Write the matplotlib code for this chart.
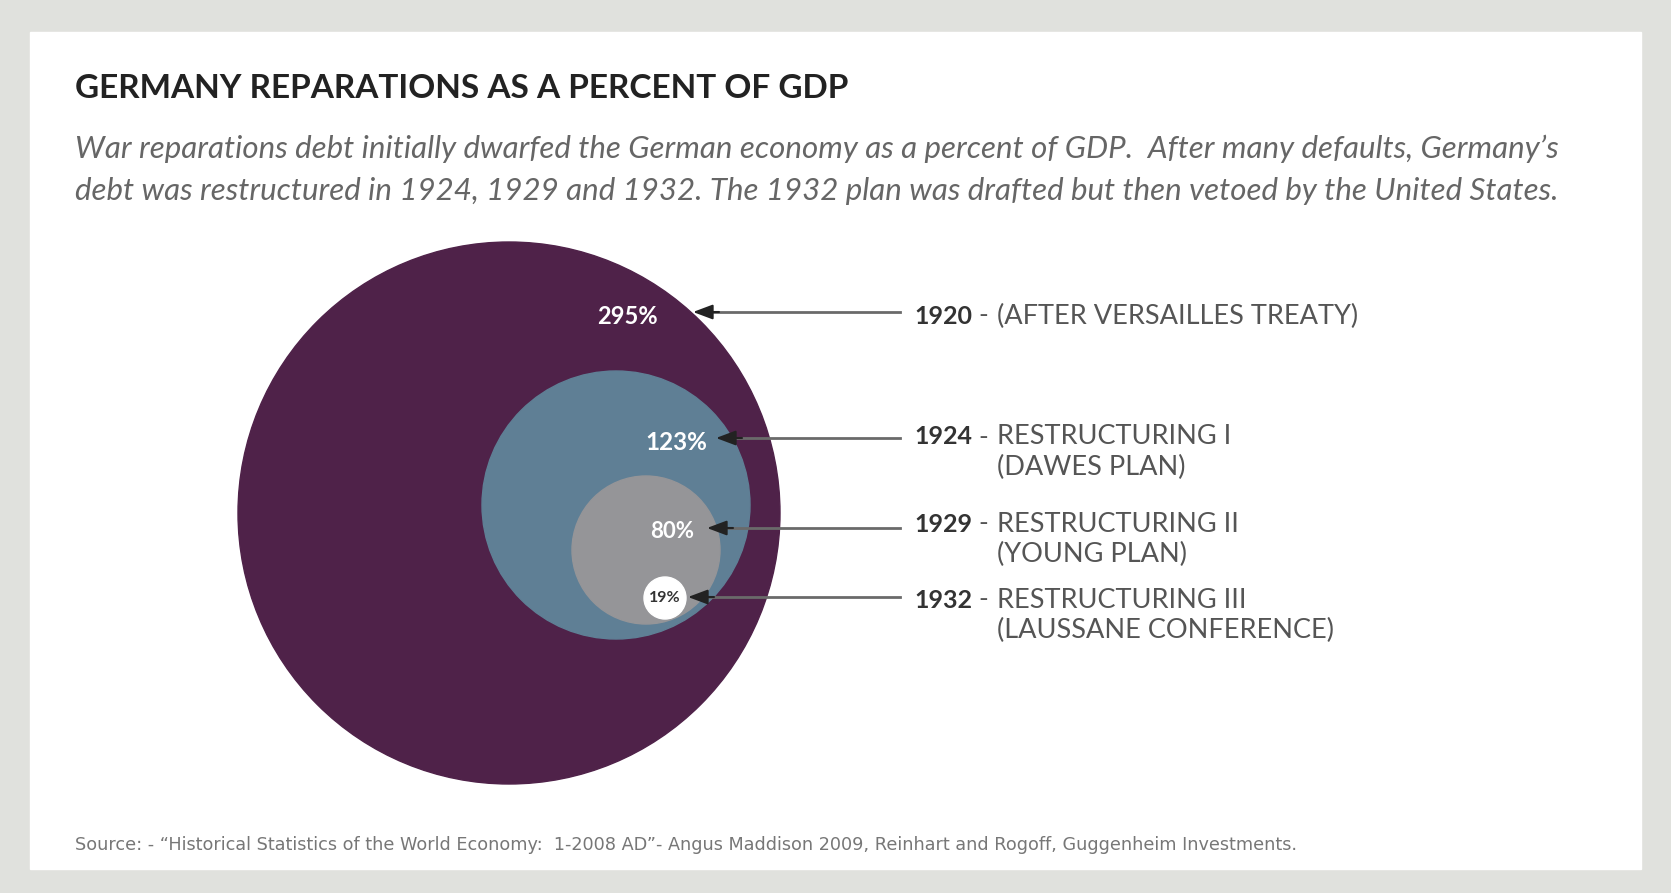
import matplotlib.pyplot as plt
from matplotlib.patches import Circle, Rectangle

# data
years = ['1920', '1924', '1929', '1932']
pct = [295, 123, 80, 19]
pct_labels = ['295%', '123%', '80%', '19%']
desc_line1 = ['(AFTER VERSAILLES TREATY)', 'RESTRUCTURING I', 'RESTRUCTURING II', 'RESTRUCTURING III']
desc_line2 = ['', '(DAWES PLAN)', '(YOUNG PLAN)', '(LAUSSANE CONFERENCE)']

title = 'GERMANY REPARATIONS AS A PERCENT OF GDP'
subtitle = ('War reparations debt initially dwarfed the German economy as a percent of GDP.  After many defaults, Germany\u2019s\n'
            'debt was restructured in 1924, 1929 and 1932. The 1932 plan was drafted but then vetoed by the United States.')
source = ('Source: - \u201cHistorical Statistics of the World Economy:  1-2008 AD\u201d- Angus Maddison 2009, '
          'Reinhart and Rogoff, Guggenheim Investments.')

# layout (pixel units of the 1671x893 canvas)
circle_xy = [(509, 513), (616, 505), (646, 550), (665, 598)]
circle_r = [271, 134, 74, 21]
colors = ['#4f2249', '#5f7f95', '#959598', '#ffffff']
label_xy = [(627, 317), (676, 442), (672, 531), (665, 598)]
label_col = ['white', 'white', 'white', '#333333']
label_size = [17, 17.5, 16, 11.5]
arrow_y = [312, 438, 528, 597]
arrow_tip = [693, 716, 707, 688]
text_y = [316, 437, 524, 600]

W, H = 1671, 893
fig = plt.figure(figsize=(W / 100, H / 100), dpi=100)
ax = fig.add_axes([0, 0, 1, 1])
ax.set_xlim(0, W)
ax.set_ylim(H, 0)
ax.axis('off')

# frame
ax.add_patch(Rectangle((0, 0), W, H, color='#e0e1dd', zorder=0))
ax.add_patch(Rectangle((30, 32), 1611, 837, color='white', zorder=1))

ax.text(75, 89, title, fontsize=24, fontweight='bold', family='Lato', color='#222222',
        va='center', ha='left', zorder=5)
ax.text(75, 170, subtitle, fontsize=22.5, style='italic', family='Lato', color='#666666',
        va='center', ha='left', linespacing=1.6, zorder=5)

# nested circles
for (cx, cy), r, c in zip(circle_xy, circle_r, colors):
    ax.add_patch(Circle((cx, cy), r, color=c, zorder=2))

for (lx, ly), s, c, fs in zip(label_xy, pct_labels, label_col, label_size):
    ax.text(lx, ly, s, fontsize=fs, fontweight='bold', family='Lato', color=c,
            ha='center', va='center', zorder=4)

# arrows and labels
for i in range(len(years)):
    ax.plot([arrow_tip[i] + 15, 900], [arrow_y[i], arrow_y[i]], color='#6a6a6a', lw=2, zorder=3)
    ax.annotate('', xy=(arrow_tip[i], arrow_y[i]), xytext=(arrow_tip[i] + 26, arrow_y[i]),
                arrowprops=dict(arrowstyle='-|>,head_length=1.2,head_width=0.45',
                                color='#222222', lw=1.5, shrinkA=0, shrinkB=0),
                zorder=3)
    ax.text(914, text_y[i], years[i], fontsize=18, fontweight='bold', family='Lato',
            color='#333333', va='center', ha='left', zorder=5)
    ax.text(978, text_y[i], '-', fontsize=19, family='Lato', color='#555555',
            va='center', ha='left', zorder=5)
    ax.text(997, text_y[i], desc_line1[i], fontsize=19.5, family='Lato', color='#555555',
            va='center', ha='left', zorder=5)
    if desc_line2[i]:
        ax.text(997, text_y[i] + 30, desc_line2[i], fontsize=19.5, family='Lato', color='#555555',
                va='center', ha='left', zorder=5)

ax.text(75, 845, source, fontsize=12.7, family=['Liberation Sans Narrow', 'DejaVu Sans'],
        color='#777777', va='center', ha='left', zorder=5)

fig.savefig('out.png', dpi=100)
